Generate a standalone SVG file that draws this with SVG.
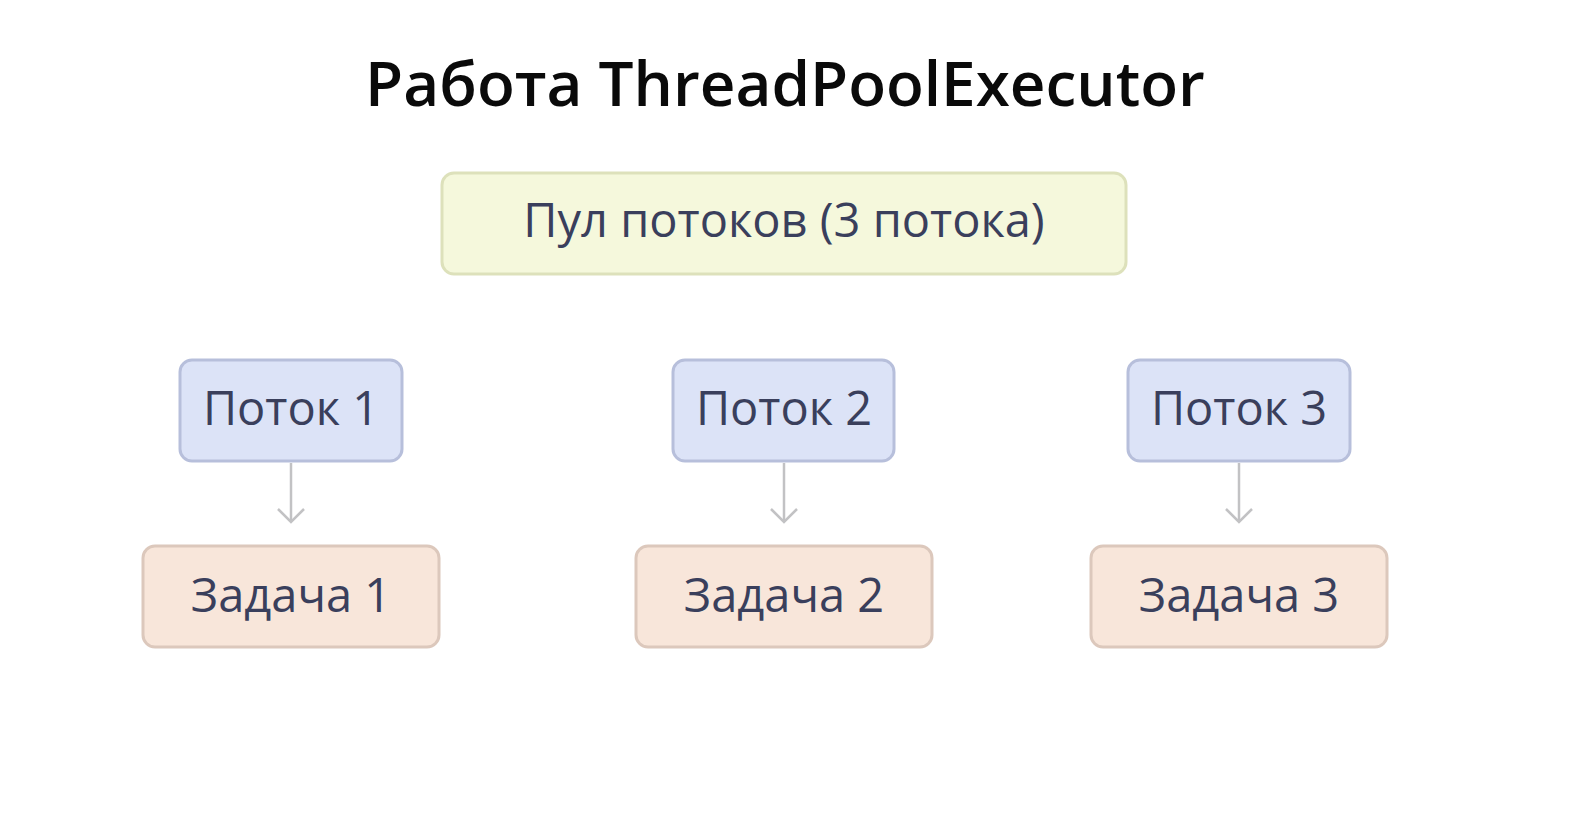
<svg xmlns="http://www.w3.org/2000/svg" width="1575" height="825" viewBox="0 0 1575 825">
<style>
.title{font-family:"Open Sans","Liberation Sans",sans-serif;font-weight:600;font-size:62px;fill:#0a0a0a;text-anchor:middle}
.lbl{font-family:"Open Sans","Liberation Sans",sans-serif;font-size:47px;fill:#3a3f5c;text-anchor:middle}
.pool{fill:#f5f8dc;stroke:#dde1bb;stroke-width:3}
.thr{fill:#dce3f7;stroke:#b7bfdb;stroke-width:3}
.task{fill:#f8e6da;stroke:#dcc8bc;stroke-width:3}
.conn{stroke:#c2c2c4;stroke-width:2.5;fill:none}
</style>
<defs>
<marker id="arr" viewBox="0 0 28 28" refX="26" refY="14" markerWidth="28" markerHeight="28" markerUnits="userSpaceOnUse" orient="auto">
<path d="M13 1 L26 14 L13 27" fill="none" stroke="#c2c2c4" stroke-width="2.5"/>
</marker>
</defs>
<rect width="1575" height="825" fill="#ffffff"/>
<text class="title" x="785" y="106">Работа ThreadPoolExecutor</text>
<g id="pool"><rect class="pool" x="442" y="173" width="684" height="101" rx="12"/><text class="lbl" x="784" y="237">Пул потоков (3 потока)</text></g>
<g id="thread1"><rect class="thr" x="180" y="360" width="222" height="101" rx="12"/><text class="lbl" x="291" y="425">Поток 1</text></g>
<g id="thread2"><rect class="thr" x="673" y="360" width="221" height="101" rx="12"/><text class="lbl" x="784" y="425">Поток 2</text></g>
<g id="thread3"><rect class="thr" x="1128" y="360" width="222" height="101" rx="12"/><text class="lbl" x="1239" y="425">Поток 3</text></g>
<g id="task1"><rect class="task" x="143" y="546" width="296" height="101" rx="12"/><text class="lbl" x="291" y="612">Задача 1</text></g>
<g id="task2"><rect class="task" x="636" y="546" width="296" height="101" rx="12"/><text class="lbl" x="784" y="612">Задача 2</text></g>
<g id="task3"><rect class="task" x="1091" y="546" width="296" height="101" rx="12"/><text class="lbl" x="1239" y="612">Задача 3</text></g>
<g id="connectors">
<line class="conn" x1="291" y1="463" x2="291" y2="522" marker-end="url(#arr)"/>
<line class="conn" x1="784" y1="463" x2="784" y2="522" marker-end="url(#arr)"/>
<line class="conn" x1="1239" y1="463" x2="1239" y2="522" marker-end="url(#arr)"/>
</g>
</svg>
